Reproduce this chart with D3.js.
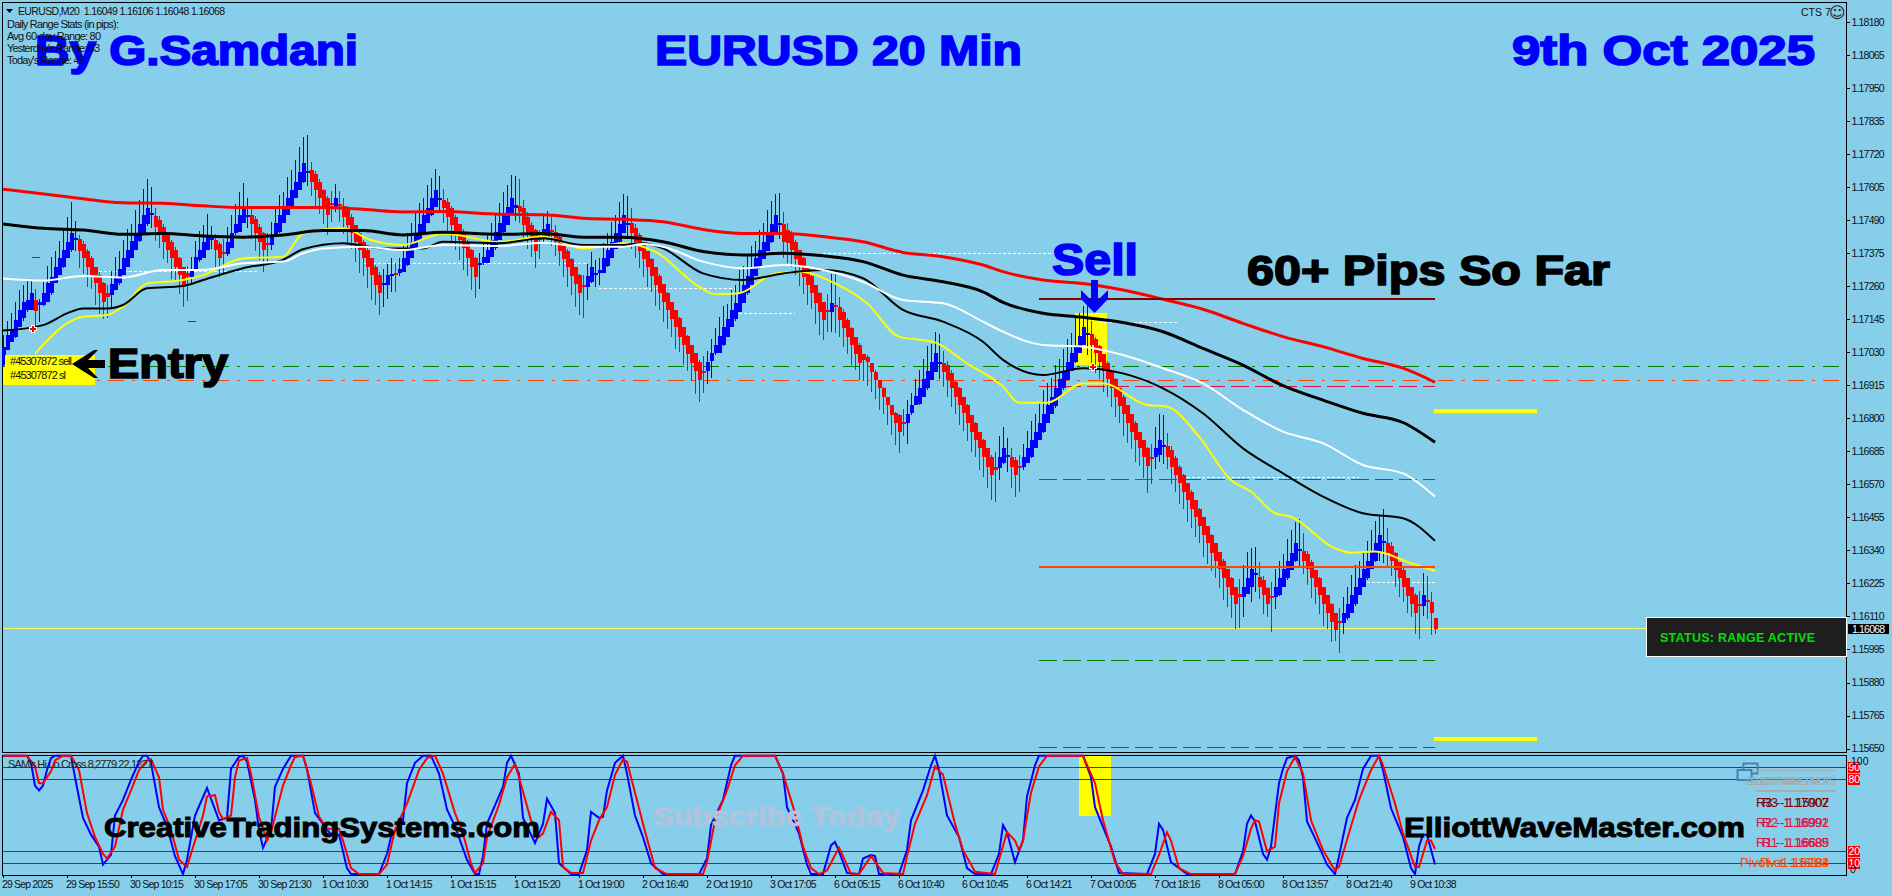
<!DOCTYPE html>
<html><head><meta charset="utf-8">
<script src="https://cdnjs.cloudflare.com/ajax/libs/d3/7.8.5/d3.min.js"></script>
<style>html,body{margin:0;padding:0;background:#87ceeb;overflow:hidden}svg{display:block}
text{font-family:"Liberation Sans",Arial,sans-serif}</style></head><body><div id="chart"></div>
<script>
// All bar and line values are points (0.00001) above PRICE_BASE.
const PRICE_BASE = 1.15, POINT = 0.00001;
const barOpen = [
1985,2037,2066,2083,2118,2147,2176,2176,2211,2194,2194,2205,2234,2269,2298,2327,
2356,2385,2421,2422,2408,2383,2356,2327,2298,2269,2234,2228,2246,2269,2298,2327,
2356,2385,2417,2443,2475,2507,2503,2489,2466,2443,2414,2385,2356,2327,2304,2292,
2321,2350,2356,2385,2420,2420,2408,2379,2373,2391,2443,2449,2478,2501,2507,2495,
2466,2443,2410,2402,2437,2449,2478,2507,2536,2565,2594,2623,2654,2663,2649,2623,
2594,2565,2550,2536,2545,2538,2524,2501,2472,2443,2414,2385,2356,2327,2298,2262,
2265,2295,2306,2304,2310,2333,2356,2385,2420,2449,2478,2507,2536,2561,2561,2553,
2530,2501,2475,2449,2414,2385,2356,2333,2339,2339,2362,2391,2420,2449,2472,2507,
2530,2538,2530,2501,2472,2455,2426,2426,2426,2455,2449,2429,2409,2383,2353,2325,
2298,2264,2258,2275,2301,2304,2307,2330,2356,2388,2414,2446,2472,2478,2461,2438,
2409,2383,2353,2325,2296,2267,2235,2206,2177,2148,2116,2086,2055,2026,1997,1965,
1963,1999,2026,2028,2055,2084,2116,2144,2171,2202,2235,2264,2295,2325,2353,2383,
2414,2446,2472,2476,2455,2441,2414,2385,2356,2325,2295,2264,2235,2206,2177,2171,
2194,2188,2171,2142,2113,2084,2055,2023,2014,1991,1962,1933,1904,1875,1846,1817,
1811,1788,1785,1817,1846,1850,1875,1904,1933,1962,1991,1993,1985,1956,1927,1904,
1875,1846,1811,1782,1753,1724,1695,1666,1631,1625,1645,1666,1666,1654,1633,1631,
1645,1666,1695,1724,1753,1782,1814,1842,1875,1904,1933,1965,1997,2026,2055,2089,
2093,2074,2051,2023,1993,1965,1935,1904,1875,1846,1814,1784,1753,1724,1695,1666,
1664,1672,1701,1703,1689,1660,1631,1602,1573,1544,1515,1483,1455,1425,1393,1364,
1335,1304,1274,1243,1214,1187,1179,1188,1214,1254,1248,1237,1208,1181,1176,1185,
1214,1243,1272,1304,1338,1339,1327,1301,1272,1243,1214,1185,1153,1123,1094,1088,
1103,1123,1153,1185,1214,1243,1274,1304,1332,1367,1367,1355,1330,1301,1272,1243,
1214,1185,1153,1146,1167,1161,1106];
const barClose = [
2049,2089,2112,2141,2176,2205,2211,2234,2174,2205,2234,2269,2292,2327,2356,2385,
2414,2443,2426,2383,2356,2327,2298,2269,2234,2205,2223,2267,2292,2321,2356,2385,
2417,2446,2475,2507,2533,2513,2466,2449,2414,2385,2356,2327,2298,2263,2292,2321,
2362,2385,2414,2437,2429,2385,2356,2373,2414,2443,2475,2507,2533,2507,2475,2443,
2414,2385,2402,2437,2478,2507,2533,2565,2594,2623,2658,2687,2661,2623,2594,2565,
2536,2507,2542,2565,2539,2501,2472,2443,2414,2385,2356,2327,2298,2263,2234,2269,
2298,2301,2299,2321,2356,2385,2414,2443,2475,2507,2533,2565,2594,2568,2530,2501,
2472,2449,2420,2391,2356,2327,2292,2341,2362,2385,2420,2449,2478,2507,2536,2565,
2542,2519,2472,2449,2432,2383,2420,2457,2476,2448,2414,2383,2353,2325,2295,2267,
2235,2258,2296,2325,2307,2316,2356,2385,2414,2443,2476,2507,2478,2443,2414,2383,
2353,2325,2295,2264,2235,2206,2177,2144,2116,2084,2055,2023,1993,1965,1933,1961,
1994,2026,2055,2086,2116,2144,2177,2202,2235,2264,2295,2325,2356,2385,2414,2446,
2476,2507,2478,2414,2411,2385,2353,2325,2293,2264,2235,2202,2171,2142,2171,2202,
2188,2142,2113,2084,2055,2023,1993,2003,1996,1960,1933,1904,1875,1846,1811,1782,
1753,1782,1814,1846,1877,1904,1935,1965,1994,2026,1997,1962,1933,1904,1875,1846,
1817,1785,1753,1724,1695,1666,1631,1602,1620,1664,1695,1672,1631,1602,1628,1664,
1695,1724,1753,1784,1814,1846,1875,1904,1935,1965,1997,2026,2055,2086,2116,2095,
2055,2026,1997,1965,1935,1904,1875,1842,1814,1784,1753,1724,1695,1666,1634,1660,
1695,1724,1707,1664,1631,1602,1573,1544,1515,1483,1455,1425,1393,1364,1332,1304,
1274,1243,1214,1185,1153,1179,1214,1243,1274,1260,1214,1185,1153,1175,1214,1243,
1274,1304,1332,1364,1344,1304,1274,1243,1214,1185,1153,1123,1092,1063,1086,1123,
1153,1185,1214,1243,1274,1304,1335,1367,1393,1373,1332,1304,1272,1243,1214,1181,
1153,1123,1146,1185,1161,1123,1068];
const barUpperWick = [
40,50,55,65,70,60,70,45,40,10,40,60,70,55,60,75,
85,110,60,15,10,5,10,0,10,5,30,45,70,60,65,75,
60,80,85,90,100,90,30,15,10,0,5,10,5,0,25,40,
55,65,60,75,40,20,5,45,50,65,70,80,85,60,25,10,
10,5,35,45,60,70,55,75,70,75,85,90,125,30,10,10,
5,10,40,50,45,30,15,10,0,5,5,10,0,5,10,50,
40,55,35,35,50,60,65,70,75,60,80,70,75,75,35,15,
10,5,0,10,5,5,5,35,45,55,60,65,70,80,75,80,
100,95,30,15,10,5,30,50,45,45,25,10,0,5,5,0,
5,35,40,55,45,40,55,60,70,65,75,75,95,55,15,5,
5,0,5,0,5,0,5,0,0,5,0,5,0,0,5,50,
40,50,60,65,75,55,70,60,80,65,70,75,60,70,65,80,
80,75,105,40,25,10,5,0,5,0,5,0,5,0,55,100,
110,35,10,5,5,0,5,0,5,0,5,0,5,0,0,5,
5,45,50,40,60,65,70,85,65,75,95,40,15,10,5,5,
0,5,0,5,0,5,0,5,50,75,75,60,30,10,40,45,
60,65,60,70,85,75,65,80,70,75,80,70,95,80,75,95,
45,10,5,0,5,0,5,0,5,0,0,5,0,0,5,45,
75,90,105,45,15,10,5,5,0,5,0,5,0,0,5,0,
0,5,0,5,0,55,75,90,75,90,50,15,5,50,60,60,
55,75,80,75,105,60,10,5,0,5,0,0,5,0,45,55,
60,70,75,60,65,70,75,75,65,110,50,15,5,0,5,0,
0,5,45,75,85,35,0];
const barLowerWick = [
5,0,0,5,0,10,5,0,70,60,5,0,5,0,0,5,
0,5,40,60,55,70,50,75,70,60,75,40,0,5,0,0,
0,0,5,0,5,45,50,55,60,45,70,50,65,75,85,30,
0,5,0,0,30,60,65,70,10,0,5,0,0,40,50,60,
65,75,60,15,0,5,0,0,5,0,0,5,45,50,60,55,
60,70,60,20,55,60,70,55,70,80,60,75,85,70,75,75,
50,55,60,10,0,5,0,0,5,0,0,5,0,40,50,55,
60,65,70,75,60,80,72,85,5,0,0,5,0,5,0,0,
45,40,55,60,70,60,65,15,5,50,50,55,60,70,65,80,
75,110,45,5,45,40,0,5,0,0,5,0,50,55,55,60,
60,70,55,75,60,70,65,60,75,55,70,60,65,80,75,75,
45,60,5,0,5,0,0,5,0,0,5,0,0,5,0,0,
5,0,50,55,70,60,55,65,60,70,55,75,80,70,70,70,
90,60,65,60,70,55,60,75,85,70,65,75,60,70,70,75,
75,45,75,5,0,5,0,5,0,0,55,55,60,65,60,70,
60,65,70,60,75,70,75,85,110,40,5,55,75,75,85,10,
0,5,0,0,5,0,0,5,0,5,0,0,5,0,0,70,
70,70,60,75,60,65,70,60,75,70,60,75,60,75,95,90,
40,25,60,40,60,60,70,60,75,65,70,60,75,70,65,60,
65,75,70,80,85,110,70,0,55,60,45,65,45,120,40,5,
0,5,0,5,60,45,55,70,60,65,75,55,70,40,105,40,
5,0,5,0,0,5,0,5,30,70,50,55,60,65,55,60,
45,75,115,35,60,78,20];

// moving averages as [bar, points above base]
const maRed = [[0,2597],[16,2571],[30,2550],[40,2548],[50,2539],[60,2533],[80,2533],[90,2527],[100,2518],[110,2519],[124,2510],[135,2508],[145,2496],[155,2492],[165,2484],[175,2457],[185,2443],[195,2443],[205,2432],[215,2414],[225,2377],[235,2362],[245,2333],[250,2310],[260,2281],[270,2269],[280,2246],[290,2214],[300,2179],[310,2130],[320,2084],[330,2049],[340,2008],[350,1974],[358,1925]];
const maBlackSlow = [[0,2476],[10,2461],[20,2455],[30,2440],[40,2443],[50,2434],[60,2430],[70,2438],[80,2453],[90,2453],[100,2438],[110,2447],[124,2440],[135,2443],[145,2430],[155,2430],[165,2414],[175,2380],[185,2368],[195,2374],[205,2365],[215,2345],[225,2298],[235,2275],[245,2240],[250,2203],[260,2165],[270,2151],[280,2133],[290,2101],[300,2043],[310,1985],[320,1913],[330,1863],[340,1817],[350,1785],[358,1716]];
const maWhite = [[0,2286],[10,2279],[20,2295],[30,2290],[40,2316],[50,2316],[60,2339],[70,2345],[75,2374],[80,2391],[90,2397],[100,2385],[110,2403],[124,2399],[135,2411],[145,2397],[155,2397],[160,2406],[165,2397],[175,2345],[185,2322],[195,2333],[205,2316],[215,2275],[225,2211],[235,2200],[245,2136],[250,2101],[260,2055],[270,2049],[280,2020],[290,1974],[300,1921],[310,1829],[320,1753],[330,1713],[340,1637],[350,1608],[358,1527]];
const maBlackFast = [[0,2105],[10,2124],[16,2165],[20,2182],[26,2182],[30,2194],[36,2252],[45,2260],[50,2281],[60,2322],[70,2351],[75,2388],[85,2409],[95,2391],[105,2391],[110,2414],[124,2409],[135,2426],[145,2403],[155,2403],[160,2409],[165,2391],[175,2304],[185,2281],[195,2304],[205,2316],[215,2287],[225,2177],[235,2136],[245,2066],[250,2003],[260,1950],[270,1974],[280,1956],[290,1904],[300,1817],[310,1695],[320,1608],[330,1527],[340,1469],[350,1452],[358,1373]];
const maYellow = [[8,2024],[16,2130],[20,2153],[26,2159],[30,2188],[36,2269],[45,2281],[50,2298],[60,2356],[70,2362],[75,2443],[85,2461],[92,2420],[100,2403],[110,2443],[124,2414],[135,2432],[145,2391],[155,2409],[163,2380],[174,2258],[178,2231],[184,2235],[193,2304],[199,2310],[208,2269],[216,2200],[224,2084],[233,2064],[241,1991],[250,1910],[254,1854],[261,1854],[270,1921],[275,1921],[286,1846],[291,1840],[299,1736],[307,1585],[312,1544],[318,1469],[322,1457],[333,1347],[337,1332],[343,1336],[352,1295],[358,1268]];

// oscillator as [bar, value 0-100]
const oscBlue = [[0,100],[6,100],[7,94],[8,75],[9,71],[10,75],[11,88],[12,98],[13,100],[17,100],[18,82],[20,48],[22,34],[24,24],[25,9],[27,17],[28,50],[30,63],[32,80],[34,95],[35,100],[36,100],[37,94],[39,57],[41,41],[43,16],[45,1],[46,13],[48,50],[51,73],[54,46],[56,48],[57,89],[59,99],[60,100],[61,95],[63,63],[64,38],[65,23],[67,38],[68,74],[70,89],[72,100],[75,100],[76,89],[78,52],[82,34],[84,34],[86,6],[87,1],[94,1],[96,18],[97,32],[100,46],[101,77],[103,94],[105,100],[107,100],[109,85],[111,55],[113,41],[116,13],[118,1],[119,1],[120,16],[121,43],[125,74],[126,94],[127,100],[129,85],[130,48],[133,27],[135,43],[136,64],[138,52],[139,10],[142,1],[144,1],[146,21],[147,53],[149,48],[150,49],[151,71],[153,94],[155,100],[156,85],[158,50],[160,32],[162,10],[165,1],[174,1],[176,14],[177,42],[180,63],[182,92],[183,100],[193,100],[195,85],[196,57],[199,35],[201,9],[202,1],[205,1],[207,25],[208,28],[209,20],[211,2],[214,1],[215,14],[217,17],[218,16],[219,1],[224,1],[226,21],[227,46],[230,71],[232,92],[233,100],[234,88],[236,50],[239,32],[241,6],[243,1],[247,1],[249,18],[250,42],[251,36],[253,11],[255,29],[256,66],[258,92],[259,100],[270,100],[272,82],[273,57],[277,24],[279,2],[286,1],[288,18],[289,43],[290,38],[292,11],[296,1],[308,1],[310,20],[311,43],[312,50],[313,45],[315,18],[316,13],[317,24],[319,77],[320,89],[321,98],[323,100],[324,96],[325,82],[326,45],[329,24],[331,9],[333,1],[334,16],[336,48],[338,63],[340,89],[342,100],[344,100],[345,88],[347,56],[350,32],[352,6],[353,1],[354,24],[355,34],[356,34],[358,9]];
const oscRed = [[0,100],[6,100],[8,91],[9,77],[10,77],[12,87],[13,96],[15,100],[17,100],[19,88],[21,52],[23,32],[25,18],[26,14],[28,24],[30,55],[32,71],[34,88],[36,96],[37,97],[39,82],[40,55],[42,38],[44,13],[46,7],[47,18],[50,50],[51,66],[53,67],[54,53],[55,47],[57,50],[58,82],[59,96],[61,98],[62,85],[64,49],[66,29],[67,36],[70,75],[72,92],[73,99],[75,100],[77,77],[79,49],[81,39],[84,39],[85,29],[87,6],[89,1],[94,1],[96,9],[98,38],[101,60],[104,88],[106,98],[108,100],[110,85],[113,52],[115,35],[117,10],[118,2],[120,10],[121,32],[124,59],[126,82],[128,93],[129,82],[132,46],[134,32],[135,35],[137,53],[139,46],[140,7],[142,2],[145,2],[147,29],[149,46],[151,57],[153,84],[155,97],[156,95],[158,69],[160,43],[163,6],[166,1],[175,1],[176,11],[178,46],[181,71],[183,92],[185,100],[193,100],[195,85],[198,52],[200,24],[202,6],[204,1],[206,4],[209,23],[210,16],[212,1],[214,1],[217,16],[220,2],[225,1],[226,16],[228,43],[231,67],[233,91],[235,84],[238,43],[240,21],[243,3],[248,1],[249,13],[251,36],[253,29],[254,21],[255,29],[257,69],[259,91],[261,100],[270,100],[273,77],[275,46],[278,11],[280,1],[287,1],[289,17],[291,36],[292,29],[294,6],[297,1],[308,1],[310,16],[312,39],[313,46],[314,45],[316,20],[318,24],[319,60],[321,87],[323,99],[325,85],[327,46],[330,21],[333,4],[334,7],[337,41],[339,63],[342,88],[344,100],[345,92],[348,60],[350,35],[353,7],[354,7],[356,29],[357,29],[358,22]];
const oscLevels = [90,80,20,10];

const priceTicks = [1.18180,1.18065,1.17950,1.17835,1.17720,1.17605,1.17490,1.17375,1.17260,1.17145,1.17030,1.16915,1.16800,1.16685,1.16570,1.16455,1.16340,1.16225,1.16110,1.15995,1.15880,1.15765,1.15650];
const timeLabels = ["29 Sep 2025","29 Sep 15:50","30 Sep 10:15","30 Sep 17:05","30 Sep 21:30","1 Oct 10:30","1 Oct 14:15","1 Oct 15:15","1 Oct 15:20","1 Oct 19:00","2 Oct 16:40","2 Oct 19:10","3 Oct 17:05","6 Oct 05:15","6 Oct 10:40","6 Oct 10:45","6 Oct 14:21","7 Oct 00:05","7 Oct 18:16","8 Oct 05:00","8 Oct 13:57","8 Oct 21:40","9 Oct 10:38"];
const lastPrice = 1.16068;
const fullLevels = [{p:1.16980,c:"#008000",d:"16,8,3,8"},{p:1.16932,c:"#ff4500",d:"16,8,3,8"}];
const pivotLevels = [
 {p:1.17215,c:"#800000",w:2,d:null},{p:1.16911,c:"#dc143c",w:1,d:"18,6"},{p:1.16585,c:"#dc143c",w:1,d:"18,6"},
 {p:1.16282,c:"#ff4500",w:2,d:null},{p:1.15958,c:"#008000",w:1,d:"18,6"},{p:1.15655,c:"#008000",w:1,d:"18,6"}];
const targetLevels = [1.16824,1.15683];
const whiteDashes = [[1.17372,205,264],[1.17340,90,146],[1.17310,24,64],[1.17250,149,183],[1.17163,184,198],[1.17132,274,294],[1.16595,296,339],[1.16229,341,358]];

const W=1892,H=896, MAIN_TOP=2,MAIN_BOTTOM=752,SUB_TOP=755,SUB_BOTTOM=875,LEFT=2,RIGHT=1846.5;
const x = d3.scaleLinear().domain([0,358]).range([3,1435]);
const y = d3.scaleLinear().domain([1.18180,1.15650]).range([21.7,748.6]);
const yOsc = d3.scaleLinear().domain([0,100]).range([875.3,755.7]);
const yP = v => y(PRICE_BASE + v*POINT);
const svg = d3.select("#chart").append("svg").attr("width",W).attr("height",H).style("background","#87ceeb");
const crisp = s => s.attr("shape-rendering","crispEdges");

// frames
crisp(svg.append("g").attr("fill","none").attr("stroke","#000").attr("stroke-width",1)).call(g=>{
  g.append("rect").attr("x",LEFT).attr("y",MAIN_TOP).attr("width",RIGHT-LEFT).attr("height",MAIN_BOTTOM-MAIN_TOP);
  g.append("rect").attr("x",LEFT).attr("y",SUB_TOP).attr("width",RIGHT-LEFT).attr("height",SUB_BOTTOM-SUB_TOP);
});

// big blue titles under the stats text
const bigText=(s,x0,x1,base,size,fill,sw)=>svg.append("text").text(s).attr("x",x0).attr("y",base).attr("font-size",size)
  .attr("font-weight","bold").attr("fill",fill).attr("stroke",fill).attr("stroke-width",sw==null?1.7:sw)
  .attr("textLength",x1-x0).attr("lengthAdjust","spacingAndGlyphs");
bigText("By G.Samdani",35,358,65,43,"#0000ff");
bigText("EURUSD 20 Min",655,1022,65,43,"#0000ff");
bigText("9th Oct 2025",1512,1815,65,43,"#0000ff");

// sell highlight
crisp(svg.append("rect").attr("x",x(268)).attr("width",x(276)-x(268)).attr("y",y(1.17165)).attr("height",y(1.16985)-y(1.17165)).attr("fill","#ffff00"));

// dashed levels
const lv = svg.append("g").attr("shape-rendering","crispEdges");
lv.selectAll(".full").data(fullLevels).join("line").attr("x1",3).attr("x2",RIGHT).attr("y1",d=>y(d.p)).attr("y2",d=>y(d.p)).attr("stroke",d=>d.c).attr("stroke-dasharray",d=>d.d);
lv.selectAll(".wd").data(whiteDashes).join("line").attr("x1",d=>x(d[1])).attr("x2",d=>x(d[2])).attr("y1",d=>y(d[0])).attr("y2",d=>y(d[0])).attr("stroke","#fff").attr("stroke-dasharray","3,2");
lv.selectAll(".pv").data(pivotLevels.filter(d=>d.d)).join("line").attr("x1",x(259)).attr("x2",x(358)).attr("y1",d=>y(d.p)).attr("y2",d=>y(d.p)).attr("stroke",d=>d.c).attr("stroke-width",d=>d.w).attr("stroke-dasharray",d=>d.d);
lv.append("line").attr("x1",3).attr("x2",RIGHT).attr("y1",y(lastPrice)).attr("y2",y(lastPrice)).attr("stroke","#ffff66");

// candles
const idx = d3.range(barOpen.length);
const isUp = i => barClose[i]>=barOpen[i];
const barColor = i => isUp(i)?"#0000ff":"#ff0000";
const wickColor = i => isUp(i)?"#0000ff":"#cc1111";
const cg = svg.append("g").attr("shape-rendering","crispEdges");
cg.selectAll(".w").data(idx).join("line").attr("x1",i=>x(i)+.5).attr("x2",i=>x(i)+.5)
  .attr("y1",i=>yP(Math.max(barOpen[i],barClose[i])+barUpperWick[i]))
  .attr("y2",i=>yP(Math.min(barOpen[i],barClose[i])-barLowerWick[i]))
  .attr("stroke",wickColor);
cg.selectAll(".b").data(idx).join("rect").attr("x",i=>x(i)-1.5).attr("width",4)
  .attr("y",i=>yP(Math.max(barOpen[i],barClose[i])))
  .attr("height",i=>Math.max(2,yP(Math.min(barOpen[i],barClose[i]))-yP(Math.max(barOpen[i],barClose[i]))))
  .attr("fill",barColor);

// moving averages
const maLine = d3.line().x(d=>x(d[0])).y(d=>yP(d[1])).curve(d3.curveMonotoneX);
[[maYellow,"#ffff00",2],[maBlackFast,"#000",2],[maWhite,"#fff",2],[maBlackSlow,"#000",3],[maRed,"#ff0000",3]].forEach(([s,c,w])=>{
  svg.append("path").datum(s).attr("d",maLine).attr("fill","none").attr("stroke",c).attr("stroke-width",w);
});

// solid levels and targets
pivotLevels.filter(d=>!d.d).forEach(d=>crisp(svg.append("line").attr("x1",x(259)).attr("x2",x(358)).attr("y1",y(d.p)).attr("y2",y(d.p)).attr("stroke",d.c).attr("stroke-width",d.w)));
targetLevels.forEach(p=>svg.append("line").attr("x1",1434).attr("x2",1537).attr("y1",y(p)).attr("y2",y(p)).attr("stroke","#ffff00").attr("stroke-width",4));

// small markers
[[32,257,8],[188,321,8]].forEach(([a,b,l])=>crisp(svg.append("line").attr("x1",a).attr("x2",a+l).attr("y1",b).attr("y2",b).attr("stroke","#e00")));
[[33,329],[1093,367]].forEach(([a,b])=>{
  svg.append("path").attr("d",`M${a-4},${b}H${a+4}M${a},${b-4}V${b+4}`).attr("stroke","#fff").attr("stroke-width",4);
  svg.append("path").attr("d",`M${a-3},${b}H${a+3}M${a},${b-3}V${b+3}`).attr("stroke","#f00").attr("stroke-width",2);
});

// order labels
crisp(svg.append("rect").attr("x",5).attr("y",355).attr("width",90).attr("height",12).attr("fill","#ffff00"));
crisp(svg.append("rect").attr("x",3).attr("y",367).attr("width",92).attr("height",18).attr("fill","#ffff00"));
const small=(s,a,b,fill,size)=>svg.append("text").text(s).attr("x",a).attr("y",b).attr("font-size",size||10.5).attr("fill",fill||"#111");
small("#45307872 sell",10,365,"#111",11).attr("textLength",62);
small("#45307872 sl",10,379,"#111",11).attr("textLength",56);

// arrows
svg.append("path").attr("d","M72,364 L94,350 L98,350 L88,360 H105 V368 H88 L98,378 L94,378 Z").attr("fill","#000");
svg.append("path").attr("d","M1091,280 H1098 V300 L1108,290 V299 L1094.5,313 L1081,299 V290 L1091,300 Z").attr("fill","#0000ff");

// annotation text
bigText("Sell",1052,1138,275,44,"#0000ff");
bigText("60+ Pips So Far",1247,1610,285,43,"#000");
bigText("Entry",108,228,378,43,"#000");

// header
svg.append("path").attr("d","M6,9 H13 L9.5,13 Z").attr("fill","#000");
small("EURUSD,M20  1.16049 1.16106 1.16048 1.16068",18,15).attr("xml:space","preserve").attr("textLength",207);
["Daily Range Stats (in pips):","Avg 60-day Range: 80","Yesterday's Range: 63","Today's Range: 45"].forEach((t,i)=>{
  small(t,7,28+12*i,"#111",11).attr("textLength",[112,94,93,78][i]);
});
small("CTS 7",1801,16);
svg.append("text").text("\u263A").attr("x",1829).attr("y",18).attr("font-size",16).attr("fill","#222").style("font-family","DejaVu Sans");

// axes
const yAxis = d3.axisRight(y).tickValues(priceTicks).tickSize(3).tickPadding(2).tickFormat(d3.format(".5f"));
const ga = svg.append("g").attr("transform",`translate(${RIGHT},0)`).call(yAxis);
ga.select(".domain").remove();
ga.selectAll("text").attr("font-size",10.5).attr("fill","#111").attr("textLength",33).attr("font-family","Liberation Sans");
ga.selectAll("line").attr("stroke","#000");
crisp(ga);
const xAxis = d3.axisBottom(x).tickValues(d3.range(timeLabels.length).map(i=>i*16)).tickSize(3).tickPadding(3).tickFormat((d,i)=>timeLabels[i]);
const gx = svg.append("g").attr("transform",`translate(0,${SUB_BOTTOM})`).call(xAxis);
gx.select(".domain").remove();
gx.selectAll("text").attr("text-anchor","start").attr("dx",-1.5).attr("font-size",10.5).attr("fill","#111").attr("font-family","Liberation Sans")
  .each(function(){const t=this;t.setAttribute("textLength",t.getComputedTextLength()*0.86);});
gx.selectAll("line").attr("stroke","#000");
crisp(gx);

// last price tag + status
crisp(svg.append("rect").attr("x",1848).attr("y",624).attr("width",41).attr("height",10).attr("fill","#000"));
svg.append("text").text(d3.format(".5f")(lastPrice)).attr("x",1852).attr("y",632.5).attr("font-size",10.5).attr("fill","#fff").attr("textLength",33);
crisp(svg.append("rect").attr("x",1646.5).attr("y",617.5).attr("width",199.5).attr("height",39).attr("fill","#1e1e1e").attr("stroke","#fff"));
svg.append("text").text("STATUS: RANGE ACTIVE").attr("x",1660).attr("y",642).attr("font-size",12.5).attr("font-weight","bold").attr("fill","#00e000").attr("textLength",155);

// oscillator window
svg.append("rect").attr("x",x(269)).attr("width",32).attr("y",yOsc(100)).attr("height",yOsc(50)-yOsc(100)).attr("fill","#ffff00").attr("shape-rendering","crispEdges");
const og = svg.append("g").attr("shape-rendering","crispEdges");
og.selectAll("line").data(oscLevels).join("line").attr("x1",3).attr("x2",RIGHT).attr("y1",d=>yOsc(d)).attr("y2",d=>yOsc(d)).attr("stroke","#dd0000");
const oscLine = d3.line().x(d=>x(d[0])).y(d=>yOsc(d[1]));
[[oscBlue,"#0000ff"],[oscRed,"#ff0000"]].forEach(([s,c])=>{
  svg.append("path").datum(s).attr("d",oscLine).attr("fill","none").attr("stroke",c).attr("stroke-width",2);
});
oscLevels.forEach(v=>{
  crisp(svg.append("rect").attr("x",1848).attr("y",yOsc(v)-5.5).attr("width",12).attr("height",11).attr("fill","#ff0000"));
  svg.append("text").text(v).attr("x",1848.5).attr("y",yOsc(v)+3.5).attr("font-size",10.5).attr("fill","#fff");
});
svg.append("text").text("100").attr("x",1851).attr("y",765).attr("font-size",10.5).attr("fill","#111");
svg.append("text").text("0").attr("x",1850).attr("y",873).attr("font-size",10.5).attr("fill","#111");
small("SAM's Hi.Lo.Cross 8,2779 22,1227",8,768,"#222",11).attr("textLength",145);

bigText("Subscribe Today",653,900,826,27,"#b0c4de",0.8);
bigText("CreativeTradingSystems.com",104,540,837,27,"#000",1);
bigText("ElliottWaveMaster.com",1404,1745,837,27,"#000",1);

// panel icons and pivot read-outs
svg.append("rect").attr("x",1743.5).attr("y",763.5).attr("width",14).attr("height",10).attr("fill","none").attr("stroke","#4682b4").attr("stroke-width",2);
svg.append("rect").attr("x",1737.5).attr("y",770).attr("width",14).attr("height",10).attr("fill","#87ceeb").attr("stroke","#4682b4").attr("stroke-width",2);
crisp(svg.append("line").attr("x1",1756).attr("x2",1836).attr("y1",770.5).attr("y2",770.5).attr("stroke","#aaa"));
crisp(svg.append("line").attr("x1",1756).attr("x2",1836).attr("y1",791).attr("y2",791).attr("stroke","#aaa").attr("stroke-width",2));
small("ELLIOTT WAVE PIVOTS",1746,785,"#a9a9a9",10).attr("textLength",90);
small("ELLIOTT WAVE PIVOTS",1750,785,"#a9a9a9",10).attr("textLength",86);
const pivotRows=[["R3","1.17007","1.15902",807,"#800000",0],["R2","1.16992","1.16991",827,"#dc143c",0],["R1","1.16689","1.16685",847,"#dc143c",0],["Pivot","1.16284","1.16283",867,"#ff4500",-16]];
pivotRows.forEach(([n,a,b,yy,c,off])=>{
  small(`${n} - ${a}`,1756+off,yy,c,13).attr("textLength",73-off);
  small(`${n} - ${b}`,1762+(off?-2:0),yy,c,13).attr("textLength",67+(off?2:0));
});
</script></body></html>
